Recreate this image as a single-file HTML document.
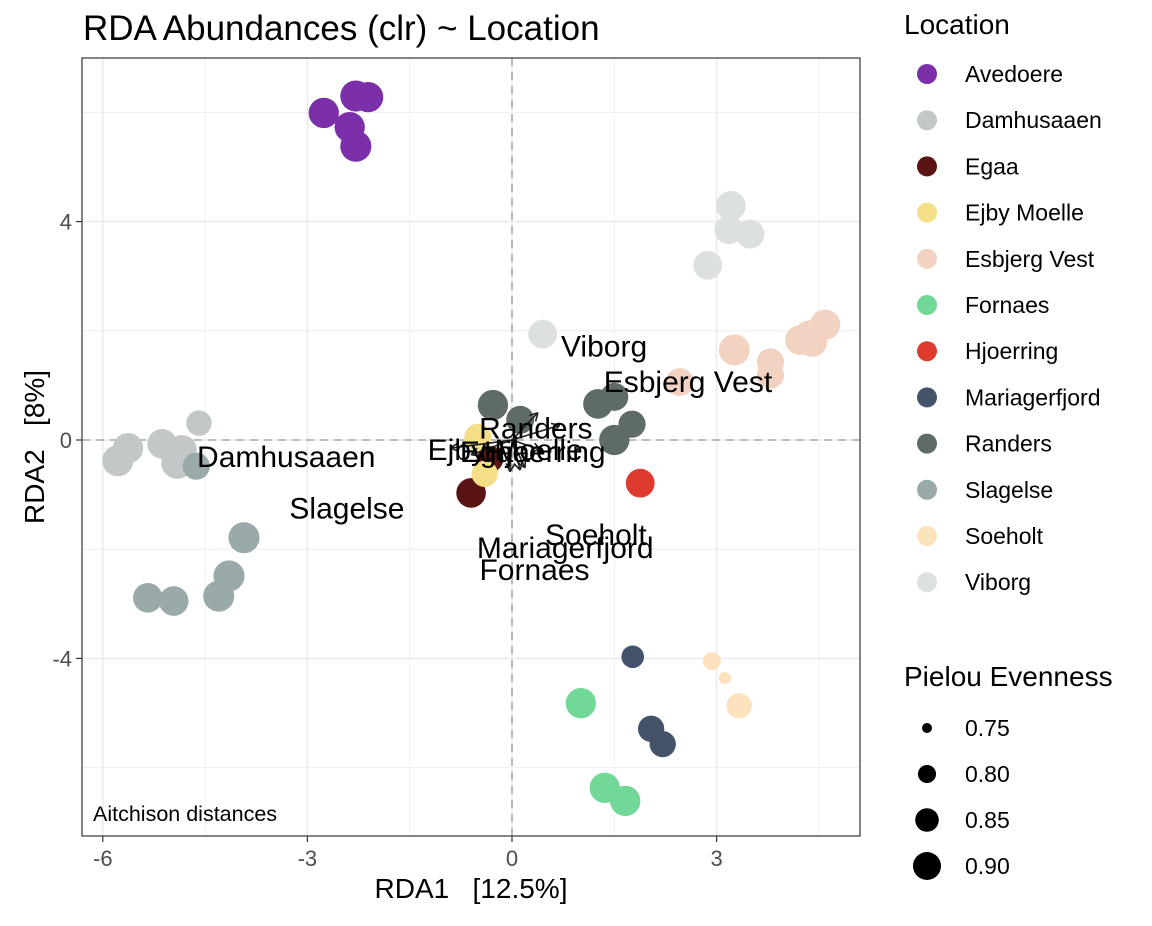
<!DOCTYPE html>
<html><head><meta charset="utf-8"><style>
body{margin:0;background:#fff;}
svg{font-family:"Liberation Sans",Arial,sans-serif;}
text{white-space:pre;}
</style></head><body>
<svg id="c" width="1152" height="921" viewBox="0 0 1152 921" xmlns="http://www.w3.org/2000/svg">
<text x="83" y="40" font-size="35" fill="#000">RDA Abundances (clr) ~ Location</text>
<g id="grid"></g>
<g id="pts"></g>
<g id="arrows"></g>
<g id="labels"></g>
<rect x="82" y="58" width="778" height="778" fill="none" stroke="#333" stroke-width="1.2"/>
<text x="93" y="821" font-size="21.5">Aitchison distances</text>
<g id="axes"></g>
<text x="471" y="898" font-size="28" text-anchor="middle" xml:space="preserve">RDA1   [12.5%]</text>
<text transform="translate(44,447) rotate(-90)" font-size="28" text-anchor="middle" xml:space="preserve">RDA2   [8%]</text>
<g id="legend"></g>
</svg>
<script>
const locations=["Avedoere","Damhusaaen","Egaa","Ejby Moelle","Esbjerg Vest","Fornaes","Hjoerring","Mariagerfjord","Randers","Slagelse","Soeholt","Viborg"];
const colors=["#7B2FA8","#C2C7C7","#5A1414","#F4DF87","#F2D2C0","#71D897","#DE3A2E","#45536A","#5E6B68","#9AA9A9","#FCE3BE","#DDE0E0"];
const ptLoc=[0,0,0,0,0,1,1,1,1,1,1,2,2,3,3,4,4,4,4,4,4,4,4,5,5,5,6,7,7,7,8,8,8,8,8,8,9,9,9,9,9,9,10,10,10,11,11,11,11,11];
const ptX=[-2.76,-2.29,-2.11,-2.38,-2.29,-5.78,-5.63,-5.13,-4.84,-4.91,-4.59,-0.60,-0.32,-0.50,-0.40,2.46,3.26,3.79,3.79,4.22,4.36,4.59,4.40,1.01,1.36,1.66,1.88,1.77,2.04,2.21,-0.28,0.12,1.26,1.50,1.50,1.76,-5.34,-4.96,-4.63,-4.30,-4.15,-3.93,2.93,3.12,3.33,0.45,2.87,3.21,3.18,3.49];
const ptY=[5.99,6.30,6.28,5.73,5.38,-0.38,-0.15,-0.07,-0.18,-0.42,0.31,-0.97,-0.35,0.05,-0.62,1.06,1.65,1.43,1.19,1.83,1.92,2.11,1.80,-4.82,-6.37,-6.61,-0.79,-3.97,-5.29,-5.57,0.64,0.37,0.66,0.79,0.00,0.29,-2.89,-2.95,-0.48,-2.86,-2.49,-1.79,-4.05,-4.36,-4.87,1.94,3.20,4.29,3.85,3.77];
const ptEven=[0.93,0.94,0.93,0.93,0.94,0.94,0.93,0.92,0.92,0.95,0.87,0.92,0.88,0.89,0.88,0.90,0.94,0.89,0.89,0.92,0.92,0.93,0.93,0.93,0.93,0.93,0.91,0.84,0.88,0.88,0.93,0.90,0.92,0.90,0.93,0.89,0.92,0.92,0.89,0.94,0.94,0.94,0.80,0.76,0.87,0.91,0.91,0.92,0.91,0.91];
const arrowX=[0.38,0.70,-0.90,-0.60,0.12,-0.03,0.19,0.42];
const arrowY=[0.50,0.27,-0.15,-0.27,-0.55,-0.58,-0.51,-0.18];
const labelText=["Viborg","Esbjerg Vest","Randers","Hjoerring","Egaa","Ejby Moelle","Damhusaaen","Slagelse","Soeholt","Mariagerfjord","Fornaes"];
const labelX=[1.35,2.58,0.35,0.48,-0.25,-0.1,-3.31,-2.42,1.23,0.78,0.33];
const labelY=[1.71,1.06,0.21,-0.22,-0.22,-0.18,-0.31,-1.25,-1.74,-1.98,-2.38];
const xTicks=[-6,-3,0,3];
const yTicks=[-4,0,4];
const evenBreaks=[0.75,0.80,0.85,0.90];
const NS="http://www.w3.org/2000/svg";
const X=v=>512+v*68.2, Y=v=>440-v*54.6;
const R=e=>Math.sqrt(Math.max(6,25+(e-0.75)*1140));
function mk(p,t,a){const e=document.createElementNS(NS,t);for(const k in a)e.setAttribute(k,a[k]);p.appendChild(e);return e;}
const grid=document.getElementById('grid');
for(let v=-7.5;v<=5;v+=1.5){if(X(v)<82||X(v)>860)continue;const major=Math.abs(v/3-Math.round(v/3))<1e-6;
const l=mk(grid,'line',{x1:X(v),x2:X(v),y1:58,y2:836,stroke:'#EBEBEB','stroke-width':major?1.6:0.8});

}
for(let v=-8;v<=8;v+=2){if(Y(v)<58||Y(v)>836)continue;const major=v%4===0;
const l=mk(grid,'line',{x1:82,x2:860,y1:Y(v),y2:Y(v),stroke:'#EBEBEB','stroke-width':major?1.6:0.8});

}
let z1=mk(grid,'line',{x1:X(0),x2:X(0),y1:58,y2:836,stroke:'#AAA','stroke-width':1.6,'stroke-dasharray':'8,6'});


let z2=mk(grid,'line',{x1:82,x2:860,y1:Y(0),y2:Y(0),stroke:'#AAA','stroke-width':1.6,'stroke-dasharray':'8,6'});


const pts=document.getElementById('pts');
ptX.forEach((x,i)=>{const c=mk(pts,'circle',{cx:X(x),cy:Y(ptY[i]),r:R(ptEven[i]),fill:colors[ptLoc[i]]});

});
const ar=document.getElementById('arrows');
arrowX.forEach((x,i)=>{const x2=X(x),y2=Y(arrowY[i]);const g=mk(ar,'g',{stroke:'#222','stroke-width':1.6,fill:'none'});


mk(g,'line',{x1:X(0),y1:Y(0),x2:x2,y2:y2});
const ang=Math.atan2(y2-Y(0),x2-X(0));
[0.5,-0.5].forEach(d=>mk(g,'line',{x1:x2,y1:y2,x2:x2-9*Math.cos(ang+d),y2:y2-9*Math.sin(ang+d)}));});
const lb=document.getElementById('labels');
labelText.forEach((t,i)=>{const e=mk(lb,'text',{x:X(labelX[i]),y:Y(labelY[i])+10,'font-size':30,'text-anchor':'middle'});e.textContent=t;

});
const ax=document.getElementById('axes');
xTicks.forEach(v=>{const l=mk(ax,'line',{x1:X(v),x2:X(v),y1:836,y2:842,stroke:'#333','stroke-width':1.2});


const t=mk(ax,'text',{x:X(v),y:866,'font-size':22,'text-anchor':'middle',fill:'#4D4D4D'});t.textContent=v;

});
yTicks.forEach(v=>{const l=mk(ax,'line',{x1:76,x2:82,y1:Y(v),y2:Y(v),stroke:'#333','stroke-width':1.2});


const t=mk(ax,'text',{x:72,y:Y(v)+8,'font-size':22,'text-anchor':'end',fill:'#4D4D4D'});t.textContent=v;

});
const lg=document.getElementById('legend');
let h=mk(lg,'text',{x:904,y:34,'font-size':28});h.textContent='Location';


locations.forEach((n,i)=>{const y=74+i*46.2;const g=mk(lg,'g',{});


mk(g,'circle',{cx:927,cy:y,r:10,fill:colors[i]});
const t=mk(g,'text',{x:965,y:y+8,'font-size':23});t.textContent=n;});
let h2=mk(lg,'text',{x:904,y:686,'font-size':28});h2.textContent='Pielou Evenness';


evenBreaks.forEach((e,i)=>{const y=728+i*46;const g=mk(lg,'g',{});


mk(g,'circle',{cx:927,cy:y,r:R(e),fill:'#000'});
const t=mk(g,'text',{x:965,y:y+8,'font-size':23});t.textContent=e.toFixed(2);});
</script>
</body></html>
